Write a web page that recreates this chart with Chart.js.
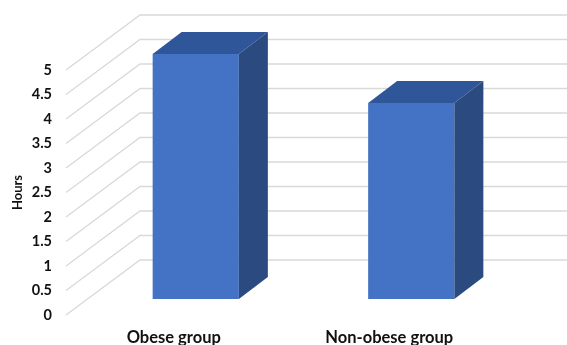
<!DOCTYPE html>
<html>
<head>
<meta charset="utf-8">
<script src="https://cdn.jsdelivr.net/npm/chart.js@4/dist/chart.umd.min.js"></script>
<style>
html,body{margin:0;padding:0;background:#fff;}
#wrap{width:567px;height:345px;position:relative;}
</style>
</head>
<body>
<div id="wrap"><canvas id="c" width="567" height="345"></canvas></div>
<script>
const categories = ["Obese group", "Non-obese group"];
const hours = [5.0, 4.0];
const yTicks = [0, 0.5, 1, 1.5, 2, 2.5, 3, 3.5, 4, 4.5, 5];
const axisTitle = "Hours";

const FRONT = {dx: -22, dy: 16};
const BACK = {dx: 52, dy: -39};
const DEPTH = {dx: 29, dy: -22};
const FONT = "Lato, 'Open Sans', sans-serif";

const threeD = {
  id: 'threeD',
  beforeDatasetsDraw(chart) {
    const ctx = chart.ctx, y = chart.scales.y, area = chart.chartArea;
    ctx.save();
    ctx.strokeStyle = '#d9d9d9';
    ctx.lineWidth = 1.3;
    yTicks.forEach(v => {
      const py = y.getPixelForValue(v);
      ctx.beginPath();
      ctx.moveTo(area.left + FRONT.dx, py + FRONT.dy);
      ctx.lineTo(area.left + BACK.dx, py + BACK.dy);
      ctx.lineTo(chart.width, py + BACK.dy);
      ctx.stroke();
    });
    // axis title
    ctx.fillStyle = '#111';
    ctx.font = "bold 13px " + FONT;
    ctx.textAlign = 'center';
    ctx.textBaseline = 'middle';
    ctx.translate(18, (area.top + area.bottom) / 2 + FRONT.dy);
    ctx.rotate(-Math.PI / 2);
    ctx.fillText(axisTitle, 0, 0);
    ctx.restore();
  },
  afterDatasetsDraw(chart) {
    const ctx = chart.ctx;
    const meta = chart.getDatasetMeta(0);
    ctx.save();
    meta.data.forEach(bar => {
      const p = bar.getProps(['x', 'y', 'base', 'width'], true);
      const l = p.x - p.width / 2, r = p.x + p.width / 2;
      // top face
      ctx.fillStyle = '#30569a';
      ctx.beginPath();
      ctx.moveTo(l, p.y);
      ctx.lineTo(l + DEPTH.dx, p.y + DEPTH.dy);
      ctx.lineTo(r + DEPTH.dx, p.y + DEPTH.dy);
      ctx.lineTo(r, p.y);
      ctx.closePath();
      ctx.fill();
      // side face
      ctx.fillStyle = '#2a4a80';
      ctx.beginPath();
      ctx.moveTo(r, p.y);
      ctx.lineTo(r + DEPTH.dx, p.y + DEPTH.dy);
      ctx.lineTo(r + DEPTH.dx, p.base + DEPTH.dy);
      ctx.lineTo(r, p.base);
      ctx.closePath();
      ctx.fill();
    });
    ctx.restore();
  }
};

new Chart(document.getElementById('c'), {
  type: 'bar',
  data: {
    labels: categories,
    datasets: [{
      data: hours,
      backgroundColor: '#4472c4',
      borderWidth: 0,
      barPercentage: 0.4,
      categoryPercentage: 1.0
    }]
  },
  options: {
    responsive: false,
    animation: false,
    events: [],
    layout: {padding: {left: 0, right: 48, top: 54, bottom: 0}},
    plugins: {legend: {display: false}, tooltip: {enabled: false}, title: {display: false}},
    scales: {
      x: {
        grid: {display: false, drawTicks: false},
        border: {display: false},
        ticks: {
          color: '#111',
          font: {family: FONT, size: 16.5, weight: 'bold'},
          padding: 29,
          labelOffset: FRONT.dx,
          maxRotation: 0
        },
        afterFit(s) { s.height = 46; }
      },
      y: {
        min: 0, max: 5,
        afterBuildTicks(s) { s.ticks = yTicks.map(v => ({value: v})); },
        grid: {display: false, drawTicks: false},
        border: {display: false},
        ticks: {
          color: '#111',
          font: {family: FONT, size: 14.5, weight: 'bold'},
          padding: 36,
          labelOffset: FRONT.dy,
          callback: v => String(v)
        },
        afterFit(s) { s.width = 88; }
      }
    }
  },
  plugins: [threeD]
});
</script>
</body>
</html>
